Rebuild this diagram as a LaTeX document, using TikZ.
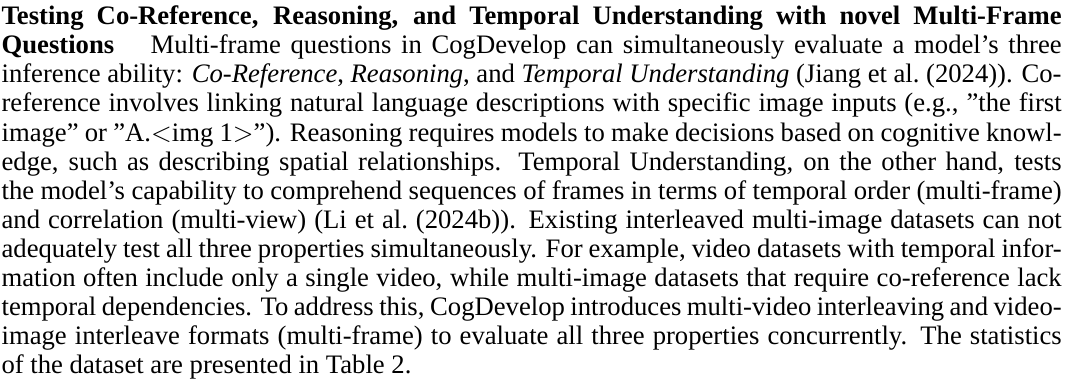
\documentclass[tikz,border=0pt]{standalone}
\usepackage{fontspec}
\setmainfont{Liberation Serif}
\usepackage{tikz}

\newlength{\parw}
\setlength{\parw}{397.5pt}
\newcommand{\jline}[1]{\hbox to\parw{#1}}
\newcommand{\lastline}[1]{\hbox to\parw{#1\hfil}}

\begin{document}
\begin{tikzpicture}
			\useasboundingbox (0,0) rectangle (400.5pt,142.1pt);
			\node[anchor=base west,inner sep=0pt,font=\fontsize{10}{10.9}\selectfont] (para) at (0.4pt,132.8pt) {\vtop{%
				\jline{\textbf{Testing Co-Reference, Reasoning, and Temporal Understanding with novel Multi-Frame}}
				\jline{\textbf{Questions}\quad\ Multi-frame questions in CogDevelop can simultaneously evaluate a model's three}
				\jline{inference ability: \textit{Co-Reference}, \textit{Reasoning}, and \textit{Temporal Understanding} (Jiang et al.\ (2024)). Co-}
				\jline{reference involves linking natural language descriptions with specific image inputs (e.g., ''the first}
				\jline{image'' or ''A.$<$img 1$>$''). Reasoning requires models to make decisions based on cognitive knowl-}
				\jline{edge, such as describing spatial relationships. Temporal Understanding, on the other hand, tests}
				\jline{the model's capability to comprehend sequences of frames in terms of temporal order (multi-frame)}
				\jline{and correlation (multi-view) (Li et al.\ (2024b)). Existing interleaved multi-image datasets can not}
				\jline{adequately test all three properties simultaneously. For example, video datasets with temporal infor-}
				\jline{mation often include only a single video, while multi-image datasets that require co-reference lack}
				\jline{temporal dependencies. To address this, CogDevelop introduces multi-video interleaving and video-}
				\jline{image interleave formats (multi-frame) to evaluate all three properties concurrently. The statistics}
				\lastline{of the dataset are presented in Table 2.}
			}};
		\end{tikzpicture}
\end{document}
